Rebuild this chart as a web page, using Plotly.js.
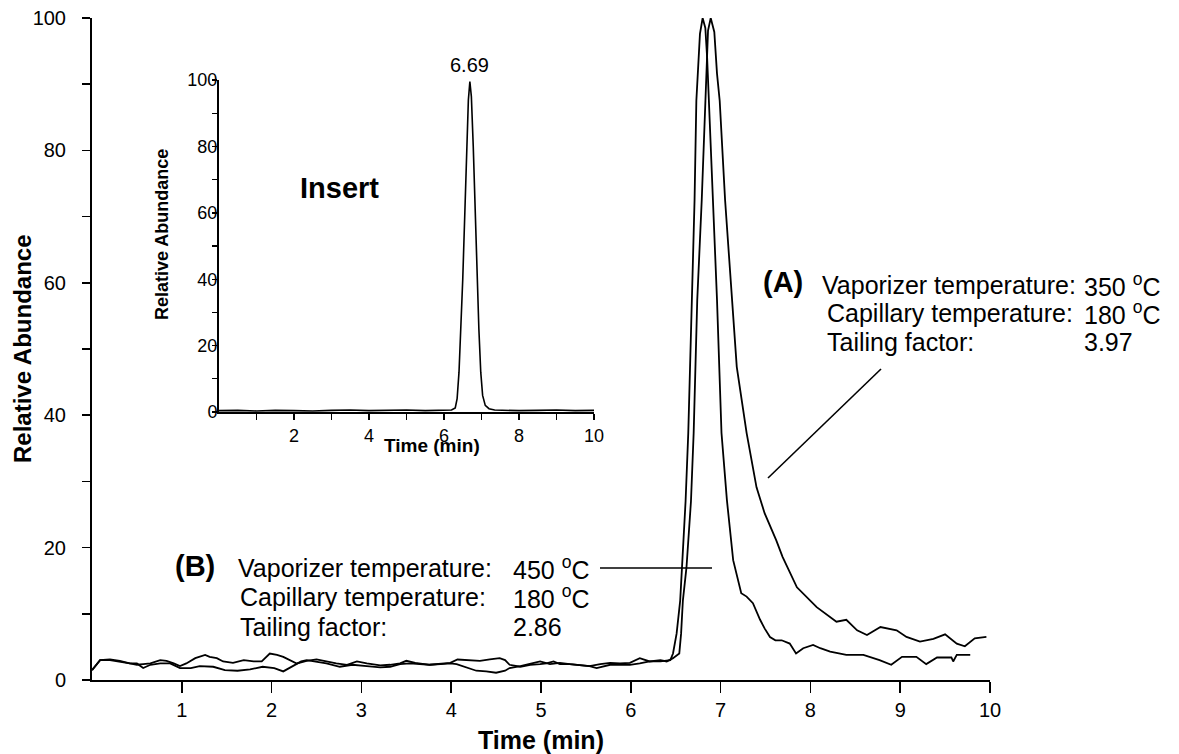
<!DOCTYPE html>
<html>
<head>
<meta charset="utf-8">
<script src="https://cdn.plot.ly/plotly-3.0.1.min.js"></script>
<style>html,body{margin:0;padding:0;background:#fff;}#chart{width:1179px;height:754px;}</style>
</head>
<body>
<div id="chart"></div>
<script>
// Trace A: vaporizer 350 °C (tailing factor 3.97)
const timeA = [0.00,0.09,0.20,0.31,0.42,0.50,0.57,0.65,0.76,0.83,0.91,0.98,1.05,1.15,1.26,1.31,1.39,1.46,1.57,1.69,1.80,1.89,1.98,2.06,2.13,2.21,2.28,2.39,2.50,2.61,2.72,2.84,2.95,3.06,3.21,3.32,3.43,3.50,3.60,3.76,3.88,3.99,4.07,4.21,4.32,4.43,4.54,4.60,4.65,4.77,4.88,4.99,5.06,5.14,5.21,5.32,5.43,5.54,5.66,5.77,5.88,5.99,6.10,6.21,6.33,6.40,6.47,6.54,6.56,6.58,6.62,6.67,6.70,6.74,6.79,6.83,6.86,6.89,6.93,6.96,6.99,7.05,7.10,7.13,7.18,7.29,7.40,7.49,7.62,7.69,7.85,8.07,8.29,8.40,8.52,8.63,8.78,8.96,9.07,9.22,9.37,9.50,9.63,9.72,9.83,9.96];
const abundA = [1.5,3.0,3.1,2.9,2.5,2.3,2.4,2.5,3.0,2.9,2.5,2.1,2.5,3.3,3.8,3.5,3.3,2.8,2.6,3.0,2.8,2.8,4.0,3.8,3.5,3.0,2.5,2.9,3.1,2.8,2.5,2.3,2.8,2.5,2.2,2.3,2.5,2.9,2.6,2.3,2.4,2.6,3.1,3.0,2.9,3.1,3.3,3.0,2.3,2.0,2.3,2.4,2.5,2.8,2.4,2.4,2.3,2.1,2.4,2.6,2.5,2.6,3.3,2.8,3.0,2.8,3.3,4.0,7.0,12.0,17.0,27.0,37.3,57.4,72.5,87.5,98.1,100,97.9,91.6,87.5,72.5,62.4,57.4,47.3,37.3,29.1,25.2,21.1,18.6,14.0,11.0,8.8,9.1,7.5,6.8,8.0,7.5,6.5,5.8,6.2,6.9,5.5,5.1,6.3,6.5];

// Trace B: vaporizer 450 °C (tailing factor 2.86)
const timeB = [0.00,0.09,0.20,0.31,0.42,0.50,0.57,0.65,0.76,0.87,0.98,1.10,1.20,1.35,1.48,1.62,1.76,1.90,2.03,2.13,2.20,2.33,2.39,2.61,2.76,2.90,3.06,3.21,3.32,3.43,3.54,3.65,3.76,3.88,3.99,4.06,4.17,4.28,4.39,4.50,4.60,4.65,4.77,4.88,4.99,5.10,5.21,5.32,5.43,5.54,5.62,5.77,5.88,5.99,6.10,6.21,6.33,6.44,6.47,6.51,6.55,6.57,6.61,6.64,6.68,6.71,6.73,6.77,6.80,6.83,6.85,6.87,6.90,6.94,6.96,7.01,7.07,7.14,7.23,7.29,7.36,7.44,7.49,7.55,7.61,7.68,7.77,7.84,7.92,8.03,8.11,8.22,8.40,8.59,8.77,8.90,9.02,9.18,9.29,9.41,9.57,9.59,9.63,9.78];
const abundB = [1.5,3.0,3.0,2.8,2.5,2.5,1.8,2.3,2.5,2.5,1.8,1.8,2.1,2.0,1.5,1.4,1.6,2.0,1.8,1.3,1.8,2.8,3.0,2.5,2.0,2.3,2.1,1.9,2.0,2.4,2.5,2.4,2.3,2.4,2.5,2.4,1.9,1.4,1.3,1.1,1.4,1.8,2.1,2.4,2.8,2.4,2.6,2.4,2.3,2.1,1.8,2.3,2.3,2.3,2.5,2.8,2.8,3.0,4.0,7.0,12.0,17.0,27.0,37.3,57.4,72.5,87.5,97.6,100,98.5,94.0,87.0,77.5,64.9,57.4,37.3,27.2,18.1,13.1,12.6,11.6,9.1,7.8,6.5,6.0,6.0,5.5,4.0,4.8,5.3,4.8,4.3,3.8,3.8,3.0,2.3,3.5,3.5,2.4,3.4,3.4,2.8,3.8,3.8];

// Insert chromatogram (peak at 6.69 min)
const timeIns = [0,0.5,1,1.5,2,2.5,3,3.5,4,4.5,5,5.5,6,6.2,6.3,6.35,6.4,6.45,6.5,6.55,6.6,6.65,6.69,6.73,6.78,6.83,6.88,6.93,6.98,7.03,7.1,7.2,7.35,7.6,8,8.5,9,9.5,10];
const abundIns = [0.4,0.5,0.3,0.5,0.4,0.3,0.5,0.6,0.4,0.5,0.6,0.4,0.5,0.6,1.2,4,12,25,40,58,78,94,99.5,95,80,60,42,25,12,5,2,1,0.6,0.5,0.4,0.5,0.6,0.4,0.5];

const mainXTicks = [1,2,3,4,5,6,7,8,9,10];
const mainYTicks = [0,20,40,60,80,100];
const mainYMinor = [10,30,50,70,90];
const insXTicks = [2,4,6,8,10];
const insXMinor = [1,3,5,7,9];
const insYTicks = [0,20,40,60,80,100];
const insYMinor = [10,30,50,70,90];

const FONT = 'Arial, "Liberation Sans", Helvetica, sans-serif';
const black = '#000000';

const traces = [
  {x: timeA, y: abundA, type: 'scatter', mode: 'lines', line: {color: black, width: 1.8}, xaxis: 'x', yaxis: 'y', hoverinfo: 'skip'},
  {x: timeB, y: abundB, type: 'scatter', mode: 'lines', line: {color: black, width: 1.8}, xaxis: 'x', yaxis: 'y', hoverinfo: 'skip'},
  {x: timeIns, y: abundIns, type: 'scatter', mode: 'lines', line: {color: black, width: 1.6}, xaxis: 'x2', yaxis: 'y2', hoverinfo: 'skip'}
];

const L = 92, T = 18, W = 898, H = 662;
const px = v => (v - L) / W;
const py = v => (T + H - v) / H;

function txt(text, x, y, size, bold, extra) {
  return Object.assign({
    text: bold ? '<b>' + text + '</b>' : text,
    xref: 'paper', yref: 'paper', x: px(x), y: py(y),
    xanchor: 'left', yanchor: 'middle', showarrow: false,
    font: {family: FONT, size: size, color: black}
  }, extra || {});
}

const annFs = 25;
const annotations = [
  txt('(A)', 761, 282, 29, true),
  txt('Vaporizer temperature:', 820, 285, annFs, false),
  txt('350 <sup>o</sup>C', 1082, 285, annFs, false),
  txt('Capillary temperature:', 825, 313, annFs, false),
  txt('180 <sup>o</sup>C', 1082, 313, annFs, false),
  txt('Tailing factor:', 825, 342, annFs, false),
  txt('3.97', 1082, 342, annFs, false),
  txt('(B)', 173, 566, 29, true),
  txt('Vaporizer temperature:', 236, 568, annFs, false),
  txt('450 <sup>o</sup>C', 511, 568, annFs, false),
  txt('Capillary temperature:', 238, 597, annFs, false),
  txt('180 <sup>o</sup>C', 511, 597, annFs, false),
  txt('Tailing factor:', 238, 627, annFs, false),
  txt('2.86', 511, 627, annFs, false),
  txt('Insert', 339, 188, 29, true, {xanchor: 'center'}),
  {text: '6.69', xref: 'x2', yref: 'y2', x: 6.69, y: 100, xanchor: 'center', yanchor: 'bottom', yshift: 2, showarrow: false, font: {family: FONT, size: 20, color: black}},
  txt('Relative Abundance', 162, 235, 18, true, {xanchor: 'center', textangle: -90}),
  txt('Time (min)', 432, 446, 19, true, {xanchor: 'center'}),
  txt('Relative Abundance', 22, 349, 24, true, {xanchor: 'center', textangle: -90})
];

const shapes = [
  {type: 'line', xref: 'paper', yref: 'paper', x0: px(600), y0: py(568), x1: px(712), y1: py(568), line: {color: black, width: 1.6}},
  {type: 'line', xref: 'paper', yref: 'paper', x0: px(881), y0: py(369), x1: px(768), y1: py(478), line: {color: black, width: 1.6}}
];

const layout = {
  width: 1179, height: 754,
  margin: {l: L, r: 1179 - L - W, t: T, b: 754 - T - H, pad: 0},
  paper_bgcolor: '#ffffff', plot_bgcolor: 'rgba(0,0,0,0)',
  showlegend: false,
  font: {family: FONT, color: black},
  xaxis: {
    range: [0, 10], tickvals: mainXTicks, ticks: 'outside', ticklen: 11, tickwidth: 1.6, tickcolor: black,
    showline: true, linecolor: black, linewidth: 2, showgrid: false, zeroline: false,
    tickfont: {family: FONT, size: 20, color: black},
    title: {text: '<b>Time (min)</b>', font: {family: FONT, size: 25, color: black}, standoff: 14},
    fixedrange: true
  },
  yaxis: {
    range: [0, 100], tickvals: mainYTicks, ticks: 'outside', ticklen: 8, tickwidth: 1.6, tickcolor: black,
    minor: {tickvals: mainYMinor, ticks: 'outside', ticklen: 8, tickwidth: 1.6, tickcolor: black, showgrid: false},
    showline: true, linecolor: black, linewidth: 2, showgrid: false, zeroline: false,
    tickfont: {family: FONT, size: 20, color: black}, ticklabelstandoff: 12,
    fixedrange: true
  },
  xaxis2: {
    domain: [px(219), px(594)], anchor: 'y2', range: [0, 10],
    tickvals: insXTicks, ticks: 'outside', ticklen: 6, tickwidth: 1.4, tickcolor: black,
    minor: {tickvals: insXMinor, ticks: 'outside', ticklen: 6, tickwidth: 1.4, tickcolor: black, showgrid: false},
    showline: true, linecolor: black, linewidth: 2, showgrid: false, zeroline: false,
    tickfont: {family: FONT, size: 18, color: black}, fixedrange: true
  },
  yaxis2: {
    domain: [py(412), py(80)], anchor: 'x2', range: [0, 100],
    tickvals: insYTicks, ticks: 'outside', ticklen: 5, tickwidth: 1.4, tickcolor: black,
    minor: {tickvals: insYMinor, ticks: 'outside', ticklen: 5, tickwidth: 1.4, tickcolor: black, showgrid: false},
    showline: true, linecolor: black, linewidth: 2, showgrid: false, zeroline: false,
    tickfont: {family: FONT, size: 18, color: black}, ticklabelstandoff: -9, fixedrange: true
  },
  annotations: annotations,
  shapes: shapes
};

Plotly.newPlot('chart', traces, layout, {displayModeBar: false, staticPlot: true});
</script>
</body>
</html>
